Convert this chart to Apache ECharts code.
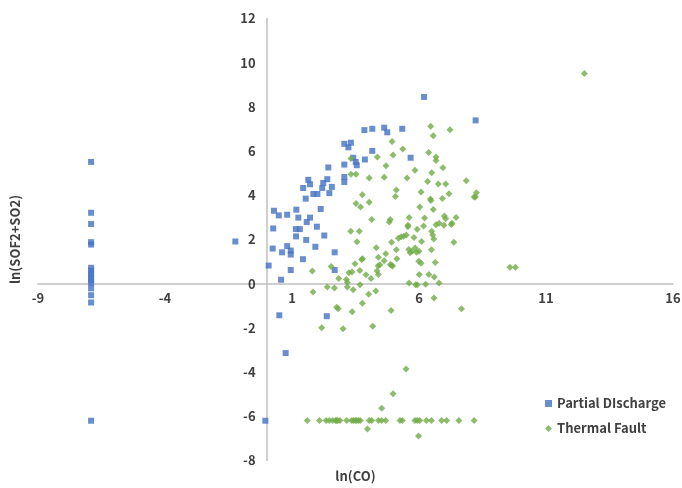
<!DOCTYPE html>
<html>
<head>
<meta charset="utf-8">
<script src="https://cdn.jsdelivr.net/npm/echarts@6/dist/echarts.min.js"></script>
<style>
html,body{margin:0;padding:0;background:#fff;}
#c{width:682px;height:488px;}
</style>
</head>
<body>
<div id="c"></div>
<script>
// Axis tick labels
var xTicks = [-9, -4, 1, 6, 11, 16];
var yTicks = [-8, -6, -4, -2, 0, 2, 4, 6, 8, 10, 12];

// Partial Discharge: ln(CO), ln(SOF2+SO2)
var pdX = [
  -6.91,-6.91,-6.91,-6.91,-6.91,-6.91,-6.91,-6.91,-6.91,-6.91,-6.91,-6.91,-6.91,-6.91,-6.91,
  -1.23,-0.05,
  0.08,0.26,0.24,0.29,0.48,0.57,0.61,0.81,0.81,0.95,0.95,0.95,
  1.17,1.16,1.25,1.15,1.31,1.43,1.44,1.54,1.56,1.58,1.64,1.71,1.71,1.84,2.00,1.92,1.98,
  2.13,2.19,2.23,2.27,2.39,2.43,2.47,2.57,2.68,2.68,
  3.06,3.06,3.06,3.06,3.22,3.32,3.41,3.51,3.55,3.85,3.87,4.16,4.16,4.63,4.75,5.34,5.67,6.20,8.23,
  0.50,2.37,0.75
];
var pdY = [
  5.51,3.21,2.70,1.88,1.77,0.72,0.58,0.44,0.30,0.16,0.03,-0.21,-0.52,-0.85,-6.20,
  1.91,-6.20,
  0.82,2.50,1.59,3.30,3.09,0.18,1.42,3.12,1.70,1.50,1.32,0.62,
  3.35,2.14,2.99,2.47,2.47,1.11,4.33,3.85,1.98,2.79,4.70,4.50,2.99,4.06,4.06,1.67,2.58,
  3.38,4.33,4.56,2.18,4.73,5.26,4.10,4.38,1.42,0.62,
  5.39,4.83,4.60,6.33,6.17,6.38,5.70,5.51,5.36,6.95,5.62,7.01,6.01,7.06,6.85,7.01,5.70,8.45,7.39,
  -1.43,-1.47,-3.14
];

// Thermal Fault: ln(CO), ln(SOF2+SO2)
var tfX = [
  6.46,6.56,7.22,4.94,5.36,4.98,4.36,6.38,6.67,6.67,4.70,3.32,5.84,6.94,6.50,3.32,3.52,4.04,4.63,5.53,
  6.34,6.76,7.05,7.86,5.11,5.07,6.08,7.18,6.92,6.45,6.47,3.77,3.52,3.70,4.04,6.03,6.56,8.26,8.17,8.22,
  4.14,5.61,4.87,4.83,6.22,7.00,7.05,7.46,5.57,5.56,5.93,6.18,6.67,6.79,6.98,7.27,7.30,3.31,3.65,5.19,
  5.30,5.40,5.50,6.50,6.54,6.58,5.80,7.37,3.56,4.92,6.10,4.32,5.11,5.60,5.65,5.72,5.85,5.90,6.00,6.49,
  3.78,3.74,4.40,4.69,5.13,5.99,6.08,6.64,3.48,4.39,4.46,4.87,4.96,4.92,4.63,4.35,4.40,4.11,3.24,3.36,
  3.67,3.91,2.84,3.14,3.18,2.67,3.18,3.41,3.68,4.30,4.02,2.54,5.61,5.87,5.93,6.26,6.79,6.01,6.39,6.60,
  6.59,3.77,2.76,2.82,3.37,4.90,7.67,9.58,9.80,
  2.39,2.17,3.01,4.18,5.49,4.98,4.53,3.97,5.98,12.51,1.80,1.83,
  1.60,2.08,2.34,2.47,2.60,2.72,2.76,2.80,2.89,3.15,3.35,3.42,3.49,3.55,3.62,3.69,4.04,4.14,4.40,4.53,
  4.69,5.25,5.34,5.84,5.93,6.03,6.29,6.49,6.89,7.09,7.57,8.17
];
var tfY = [
  7.12,6.70,6.97,6.44,6.09,5.82,5.73,5.94,5.73,5.58,5.34,5.66,5.13,5.25,5.02,4.95,4.95,4.78,4.82,4.78,
  4.63,4.51,4.51,4.66,4.24,3.95,4.15,4.07,3.86,3.83,3.77,4.03,3.63,3.47,3.68,3.47,3.36,4.12,3.92,3.92,
  2.90,3.00,2.91,2.79,2.97,3.06,2.94,3.00,2.64,2.58,2.46,2.61,2.67,2.74,2.64,2.68,2.74,2.37,2.37,2.06,
  2.12,2.15,2.20,2.37,2.20,2.02,2.09,1.88,1.90,1.88,1.91,1.63,1.54,1.55,1.40,1.47,1.62,1.42,1.47,1.54,
  1.13,1.09,1.20,1.36,1.13,1.02,0.93,0.96,0.90,0.80,0.86,0.87,0.80,0.84,1.04,0.57,0.42,0.24,0.50,0.53,
  0.60,0.41,0.23,0.19,0.05,-0.20,-0.15,-0.27,-0.05,-0.33,-0.48,0.78,0.03,-0.05,-0.05,-0.02,0.03,0.42,0.42,0.30,
  -0.65,-0.88,-1.06,-1.13,-1.27,-1.21,-1.13,0.74,0.74,
  -0.15,-1.99,-2.04,-1.92,-3.86,-4.98,-5.64,-6.57,-6.89,9.51,0.57,-0.38,
  -6.19,-6.19,-6.19,-6.19,-6.19,-6.19,-6.19,-6.19,-6.19,-6.19,-6.19,-6.19,-6.19,-6.19,-6.19,-6.19,-6.19,-6.19,-6.19,-6.19,
  -6.19,-6.19,-6.19,-6.19,-6.19,-6.19,-6.19,-6.19,-6.19,-6.19,-6.19,-6.19
];

function zip(xs, ys){ var out=[]; for(var i=0;i<xs.length;i++){ out.push([xs[i], ys[i]]); } return out; }

var FONT = '"Noto Sans CJK KR", "Noto Sans", sans-serif';
var TXT = { fontFamily: FONT, fontSize: 13, color: '#404040', fontWeight: 'bold' };
var GRID = { left: 38, right: 9, top: 18.5, bottom: 27.5 };
var W = 682, H = 488;
var xMin = xTicks[0], xMax = xTicks[xTicks.length - 1];
var yMin = yTicks[0], yMax = yTicks[yTicks.length - 1];
// Offsets that move each axis (line + labels) onto the other axis' zero
var plotW = W - GRID.left - GRID.right, plotH = H - GRID.top - GRID.bottom;
var xAxisOffset = -plotH * (0 - yMin) / (yMax - yMin);
var yAxisOffset = -plotW * (0 - xMin) / (xMax - xMin);

var chart = echarts.init(document.getElementById('c'));
chart.setOption({
  animation: false,
  backgroundColor: '#ffffff',
  textStyle: { fontFamily: FONT },
  grid: { left: GRID.left, right: GRID.right, top: GRID.top, bottom: GRID.bottom, containLabel: false, outerBoundsMode: 'none' },
  legend: {
    orient: 'vertical',
    left: 540,
    top: 392,
    itemWidth: 7,
    itemHeight: 7,
    itemGap: 12,
    textStyle: TXT,
    data: [
      { name: 'Partial DIscharge', icon: 'rect' },
      { name: 'Thermal Fault', icon: 'diamond' }
    ]
  },
  xAxis: {
    type: 'value',
    position: 'bottom',
    offset: xAxisOffset,
    min: xMin,
    max: xMax,
    interval: 5,
    name: 'ln(CO)',
    nameLocation: 'middle',
    nameGap: 186,
    nameTextStyle: TXT,
    axisLine: { show: true, onZero: false, lineStyle: { color: '#bfbfbf', width: 1.5 } },
    axisTick: { show: false },
    splitLine: { show: false },
    axisLabel: Object.assign({ customValues: xTicks, margin: 8 }, TXT)
  },
  yAxis: {
    type: 'value',
    position: 'left',
    offset: yAxisOffset,
    min: yMin,
    max: yMax,
    interval: 2,
    name: 'ln(SOF2+SO2)',
    nameLocation: 'middle',
    nameGap: 245,
    nameTextStyle: TXT,
    axisLine: { show: true, onZero: false, lineStyle: { color: '#bfbfbf', width: 1.5 } },
    axisTick: { show: false },
    splitLine: { show: false },
    axisLabel: Object.assign({ customValues: yTicks, margin: 11 }, TXT)
  },
  series: [
    {
      name: 'Partial DIscharge',
      type: 'scatter',
      symbol: 'rect',
      symbolSize: 6,
      itemStyle: { color: '#4472C4' },
      data: zip(pdX, pdY)
    },
    {
      name: 'Thermal Fault',
      type: 'scatter',
      symbol: 'diamond',
      symbolSize: 7,
      itemStyle: { color: '#70AD47' },
      data: zip(tfX, tfY)
    }
  ]
});
</script>
</body>
</html>
